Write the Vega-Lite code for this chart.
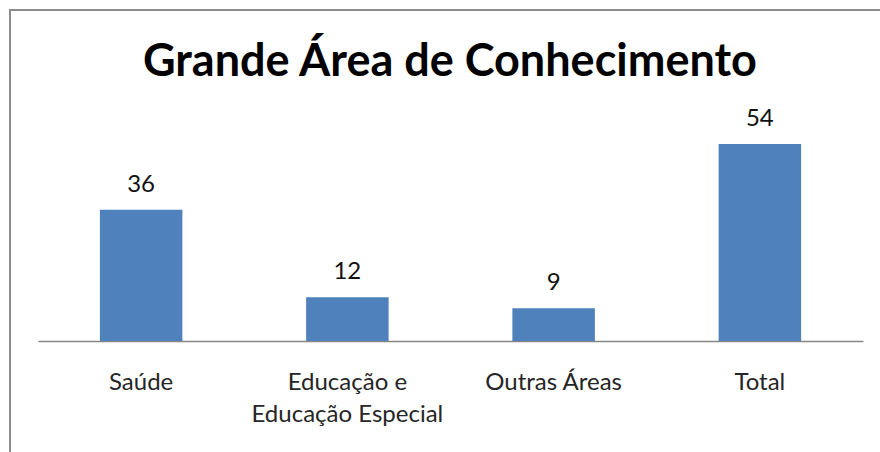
{
  "$schema": "https://vega.github.io/schema/vega-lite/v6.json",
  "autosize": "none",
  "padding": {"left": 10, "top": 10, "right": 0, "bottom": 0},
  "width": 870,
  "height": 442,
  "background": "white",
  "title": {
    "text": "Grande Área de Conhecimento",
    "font": "Lato",
    "fontSize": 45,
    "fontWeight": "bold",
    "color": "#000000",
    "anchor": "middle",
    "frame": "group",
    "baseline": "alphabetic",
    "offset": -111,
    "dx": 5
  },
  "config": {
    "view": {"stroke": "#8c8c8c", "strokeWidth": 2, "strokeDash": [870, 1312, 442, 10]},
    "font": "Lato"
  },
  "data": {
    "values": [
      {"area": "Saúde", "valor": 36},
      {"area": "Educação e\nEducação Especial", "valor": 12},
      {"area": "Outras Áreas", "valor": 9},
      {"area": "Total", "valor": 54}
    ]
  },
  "encoding": {
    "x": {
      "field": "area",
      "type": "nominal",
      "sort": null,
      "scale": {"range": [28, 853], "paddingInner": 0.6, "paddingOuter": 0.3},
      "axis": {
        "title": null,
        "offset": -111,
        "labelAngle": 0,
        "ticks": false,
        "domainColor": "#868686",
        "domainWidth": 1.5,
        "labelFont": "Lato",
        "labelFontSize": 24,
        "labelColor": "#262626",
        "labelPadding": 29,
        "labelLineHeight": 32,
        "labelLimit": 400,
        "labelExpr": "split(datum.value, '\\n')",
        "grid": false
      }
    },
    "y": {
      "field": "valor",
      "type": "quantitative",
      "scale": {"domain": [0, 54], "range": [331, 134], "nice": false, "zero": true},
      "axis": null
    }
  },
  "layer": [
    {"mark": {"type": "bar", "color": "#4f81bd"}},
    {
      "mark": {"type": "text", "dy": -18, "baseline": "alphabetic", "font": "Lato", "fontSize": 24, "color": "#111111"},
      "encoding": {"text": {"field": "valor", "type": "quantitative"}}
    }
  ]
}
